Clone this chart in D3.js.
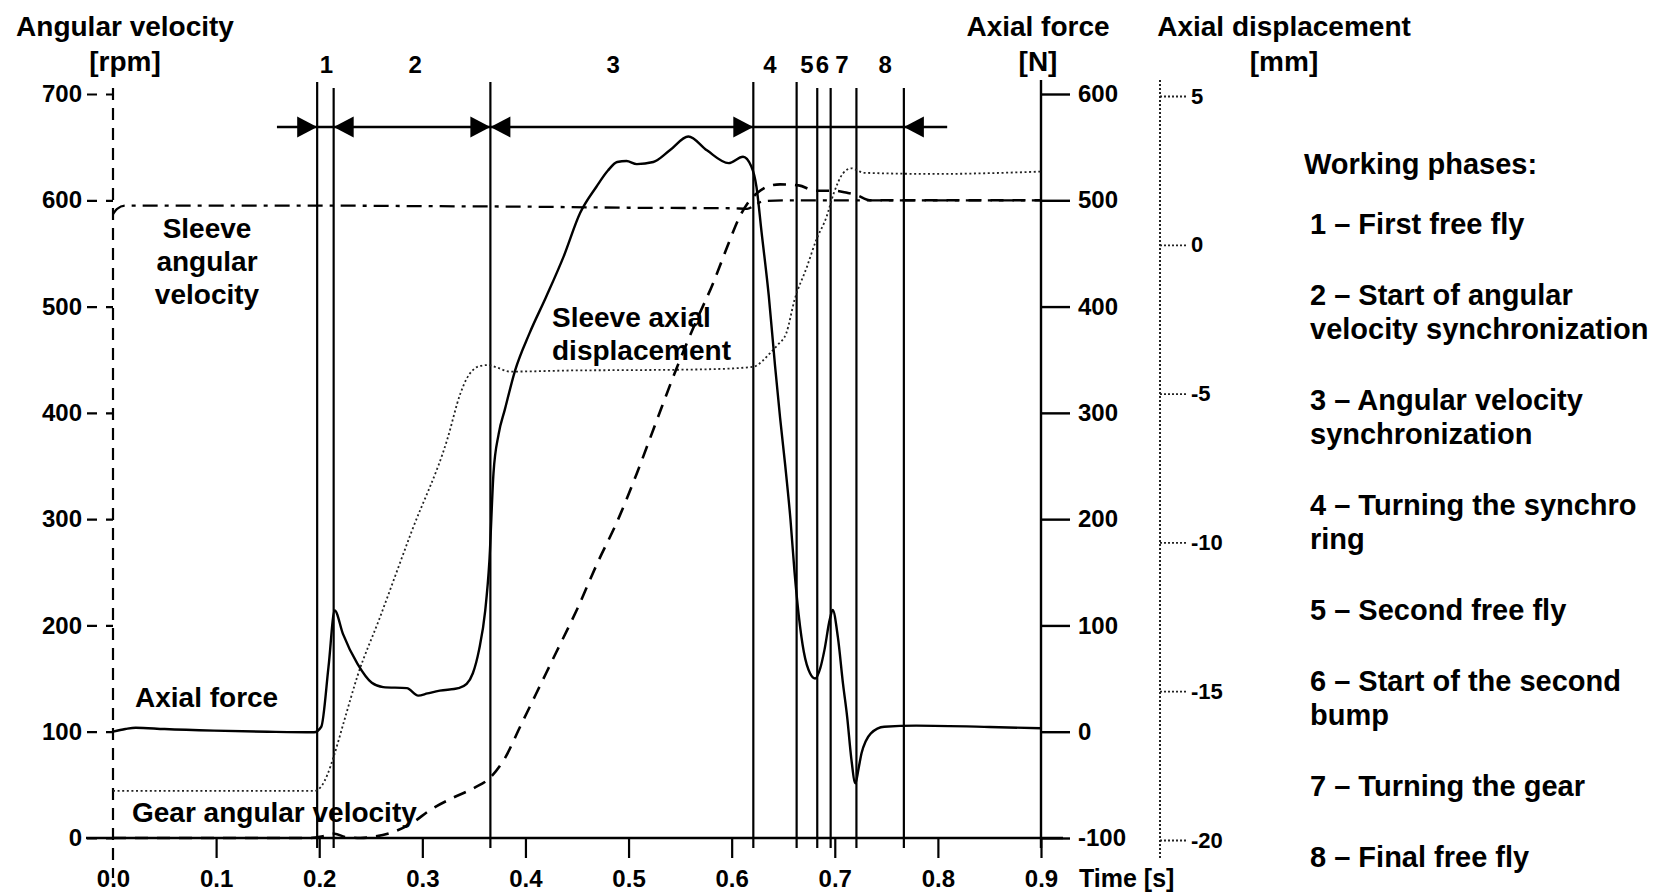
<!DOCTYPE html>
<html>
<head>
<meta charset="utf-8">
<script src="https://cdn.jsdelivr.net/npm/d3@7"></script>
<style>
  body { margin: 0; background: #fff; }
  text { font-family: "Liberation Sans", Arial, sans-serif; font-weight: bold; fill: #000; }
</style>
</head>
<body>
<script>
// Tamaño del lienzo
const w = 1672;
const h = 894;

// Ticks de los ejes
const timeTicks = [0, 0.1, 0.2, 0.3, 0.4, 0.5, 0.6, 0.7, 0.8, 0.9];
const rpmTicks = [0, 100, 200, 300, 400, 500, 600, 700];
const forceTicks = [-100, 0, 100, 200, 300, 400, 500, 600];
const dispTicks = [-20, -15, -10, -5, 0, 5];

// Series: [tiempo s, valor]
const axialForce = [
  [0, 0], [0.012, 2.5], [0.022, 3.8], [0.05, 2.5], [0.098, 1], [0.15, 0], [0.195, -0.5],
  [0.202, 4.7], [0.209, 61], [0.215, 114], [0.223, 92], [0.237, 64], [0.251, 46], [0.262, 42],
  [0.285, 41], [0.296, 34], [0.305, 36], [0.317, 38.6], [0.335, 41], [0.343, 45], [0.349, 55],
  [0.355, 77], [0.361, 114], [0.365, 160], [0.369, 243], [0.374, 280], [0.380, 303], [0.390, 340],
  [0.404, 375], [0.420, 409], [0.437, 447], [0.453, 488], [0.469, 513], [0.480, 528], [0.489, 536],
  [0.498, 537], [0.508, 534], [0.524, 536], [0.540, 547], [0.558, 560], [0.576, 547], [0.597, 535],
  [0.611, 541], [0.619, 532], [0.624, 513], [0.629, 470], [0.636, 410], [0.642, 345], [0.647, 295],
  [0.652, 250], [0.657, 200], [0.661, 150], [0.665, 110], [0.670, 75], [0.676, 55], [0.681, 50],
  [0.686, 60], [0.690, 77], [0.695, 105], [0.698, 114.5], [0.703, 89], [0.708, 45], [0.712, 14],
  [0.716, -25], [0.720, -48.5], [0.723, -35], [0.726, -20], [0.730, -9], [0.735, -1.5], [0.748, 4.7],
  [0.779, 5.7], [0.85, 4.5], [0.9, 3.2]
];

const gearVelocity = [
  [0, 0], [0.1, 0], [0.19, 0], [0.205, 2], [0.215, 4], [0.225, 1], [0.24, 0], [0.255, 1.5],
  [0.27, 5], [0.29, 14], [0.307, 26], [0.33, 38], [0.35, 47], [0.366, 57], [0.38, 75], [0.395, 105],
  [0.41, 135], [0.43, 175], [0.45, 215], [0.469, 257], [0.49, 300], [0.508, 343], [0.527, 392],
  [0.547, 443], [0.565, 485], [0.582, 522], [0.596, 557], [0.608, 585], [0.616, 598], [0.625, 607],
  [0.635, 613], [0.647, 615], [0.665, 614], [0.681, 609], [0.699, 609], [0.712, 607], [0.721, 605],
  [0.734, 600], [0.8, 600], [0.9, 600]
];

const sleeveVelocity = [
  [0, 587], [0.004, 592], [0.012, 595], [0.1, 595], [0.2, 595], [0.3, 594.5], [0.4, 594],
  [0.5, 593], [0.6, 592.5], [0.615, 592], [0.622, 595], [0.63, 599], [0.65, 600], [0.9, 600]
];

const sleeveDisplacement = [
  [0, -18.35], [0.1, -18.35], [0.195, -18.35], [0.202, -18.2], [0.208, -17.8], [0.214, -17.2],
  [0.225, -15.9], [0.237, -14.5], [0.258, -12.6], [0.29, -9.6], [0.324, -6.56], [0.337, -4.99],
  [0.343, -4.5], [0.349, -4.21], [0.356, -4.07], [0.364, -4.04], [0.372, -4.12], [0.385, -4.26],
  [0.45, -4.22], [0.508, -4.21], [0.58, -4.18], [0.621, -4.1], [0.63, -3.9], [0.637, -3.65],
  [0.645, -3.35], [0.653, -2.97], [0.661, -1.85], [0.673, -0.74], [0.682, 0.16], [0.692, 0.94],
  [0.699, 1.73], [0.708, 2.4], [0.716, 2.57], [0.722, 2.5], [0.728, 2.42], [0.8, 2.38],
  [0.841, 2.4], [0.9, 2.46]
];

// Fases de trabajo
const phaseLines = [0.198, 0.214, 0.366, 0.621, 0.663, 0.683, 0.696, 0.721, 0.767];
const phaseNumbers = ["1", "2", "3", "4", "5", "6", "7", "8"];
const phaseNumberT = [0.207, 0.293, 0.485, 0.637, 0.673, 0.688, 0.707, 0.749];
const arrowSpan = [0.159, 0.809];
const arrowHeads = [[0.198, "right"], [0.214, "left"], [0.366, "right"], [0.366, "left"], [0.621, "right"], [0.767, "left"]];

const legendTitle = "Working phases:";
const legendItems = [
  ["1 \u2013 First free fly"],
  ["2 \u2013 Start of angular", "velocity synchronization"],
  ["3 \u2013 Angular velocity", "synchronization"],
  ["4 \u2013 Turning the synchro", "ring"],
  ["5 \u2013 Second free fly"],
  ["6 \u2013 Start of the second", "bump"],
  ["7 \u2013 Turning the gear"],
  ["8 \u2013 Final free fly"]
];

// SVG
const svg = d3.select("body")
  .append("svg")
  .attr("width", w)
  .attr("height", h);

svg.append("rect").attr("width", w).attr("height", h).attr("fill", "#fff");

// Escalas
const x = d3.scaleLinear().domain([0, 0.9]).range([113, 1041]);
const yRpm = d3.scaleLinear().domain([0, 700]).range([838, 94]);
const yForce = d3.scaleLinear().domain([-100, 600]).range([838, 94]);
const yDisp = d3.scaleLinear().domain([-20, 5]).range([840, 96]);

// Etiquetas con guion normal (no el signo menos de d3)
const plain = d => String(d);

// Eje X
const xAxis = d3.axisBottom(x)
  .tickValues(timeTicks)
  .tickSize(20)
  .tickSizeOuter(0)
  .tickPadding(12)
  .tickFormat(d => d.toFixed(1));

const gx = svg.append("g")
  .attr("transform", "translate(0,838)")
  .call(xAxis);
gx.select(".domain").remove();
gx.selectAll(".tick line").attr("stroke", "#000").attr("stroke-width", 2.2)
  .filter(d => d === 0).remove();
gx.selectAll(".tick text").style("font-size", "24px");

svg.append("line")
  .attr("x1", 86).attr("x2", 1063)
  .attr("y1", 838).attr("y2", 838)
  .attr("stroke", "#000").attr("stroke-width", 2.4);

svg.append("text")
  .attr("x", 1079).attr("y", 887)
  .style("font-size", "25px")
  .text("Time [s]");

// Eje Y izquierdo (rpm), discontinuo
const yAxisL = d3.axisLeft(yRpm)
  .tickValues(rpmTicks)
  .tickSize(26)
  .tickSizeOuter(0)
  .tickPadding(5)
  .tickFormat(plain);

const gl = svg.append("g")
  .attr("transform", `translate(${x(0)},0)`)
  .call(yAxisL);
gl.select(".domain").remove();
gl.selectAll(".tick line").attr("stroke", "#000").attr("stroke-width", 2.2)
  .attr("stroke-dasharray", "7,9,10");
gl.selectAll(".tick text").style("font-size", "24px");

svg.append("line")
  .attr("x1", x(0)).attr("x2", x(0))
  .attr("y1", 88).attr("y2", 878)
  .attr("stroke", "#000").attr("stroke-width", 2.2)
  .attr("stroke-dasharray", "12,8");

// Eje de fuerza axial
const yAxisF = d3.axisRight(yForce)
  .tickValues(forceTicks)
  .tickSize(29)
  .tickSizeOuter(0)
  .tickPadding(8)
  .tickFormat(plain);

const gf = svg.append("g")
  .attr("transform", `translate(${x(0.9)},0)`)
  .call(yAxisF);
gf.select(".domain").remove();
gf.selectAll(".tick line").attr("stroke", "#000").attr("stroke-width", 2.4);
gf.selectAll(".tick text").style("font-size", "24px");

svg.append("line")
  .attr("x1", x(0.9)).attr("x2", x(0.9))
  .attr("y1", 80).attr("y2", 848)
  .attr("stroke", "#000").attr("stroke-width", 2.4);

// Eje de desplazamiento axial, punteado
const yAxisD = d3.axisRight(yDisp)
  .tickValues(dispTicks)
  .tickSize(28)
  .tickSizeOuter(0)
  .tickPadding(3)
  .tickFormat(plain);

const gd = svg.append("g")
  .attr("transform", "translate(1160,0)")
  .call(yAxisD);
gd.select(".domain").remove();
gd.selectAll(".tick line").attr("stroke", "#222").attr("stroke-width", 1.8)
  .attr("stroke-dasharray", "2,2");
gd.selectAll(".tick text").style("font-size", "22px");

svg.append("line")
  .attr("x1", 1160).attr("x2", 1160)
  .attr("y1", 80).attr("y2", 860)
  .attr("stroke", "#222").attr("stroke-width", 2)
  .attr("stroke-dasharray", "2,2");

// Títulos de ejes
const titles = [
  [125, "Angular velocity", "[rpm]"],
  [1038, "Axial force", "[N]"],
  [1284, "Axial displacement", "[mm]"]
];
titles.forEach(([cx, t1, t2]) => {
  svg.append("text").attr("x", cx).attr("y", 36)
    .attr("text-anchor", "middle").style("font-size", "28px").text(t1);
  svg.append("text").attr("x", cx).attr("y", 71)
    .attr("text-anchor", "middle").style("font-size", "28px").text(t2);
});

// Líneas verticales de fases
const tallLines = new Set([0.198, 0.366, 0.621, 0.663]);
svg.selectAll(".phase")
  .data(phaseLines)
  .enter()
  .append("line")
  .attr("class", "phase")
  .attr("x1", d => x(d)).attr("x2", d => x(d))
  .attr("y1", d => tallLines.has(d) ? 82 : 88)
  .attr("y2", 848)
  .attr("stroke", "#000")
  .attr("stroke-width", 2.2);

// Números de fase
svg.selectAll(".phase-num")
  .data(phaseNumbers)
  .enter()
  .append("text")
  .attr("class", "phase-num")
  .attr("x", (d, i) => x(phaseNumberT[i]))
  .attr("y", 73)
  .attr("text-anchor", "middle")
  .style("font-size", "24px")
  .text(d => d);

// Flechas
svg.append("line")
  .attr("x1", x(arrowSpan[0])).attr("x2", x(arrowSpan[1]))
  .attr("y1", 127).attr("y2", 127)
  .attr("stroke", "#000").attr("stroke-width", 2.4);

svg.selectAll(".arrow")
  .data(arrowHeads)
  .enter()
  .append("path")
  .attr("class", "arrow")
  .attr("d", d => {
    const tip = x(d[0]);
    const base = d[1] === "right" ? tip - 20 : tip + 20;
    return `M${tip},127 L${base},116.5 L${base},137.5 Z`;
  })
  .attr("fill", "#000");

// Curvas
const lineOf = yScale => d3.line()
  .x(d => x(d[0]))
  .y(d => yScale(d[1]))
  .curve(d3.curveMonotoneX);

svg.append("path")
  .datum(sleeveDisplacement)
  .attr("d", lineOf(yDisp))
  .attr("fill", "none")
  .attr("stroke", "#222")
  .attr("stroke-width", 1.8)
  .attr("stroke-dasharray", "2,2.6");

svg.append("path")
  .datum(sleeveVelocity)
  .attr("d", lineOf(yRpm))
  .attr("fill", "none")
  .attr("stroke", "#000")
  .attr("stroke-width", 2.3)
  .attr("stroke-dasharray", "15,7,4,7");

svg.append("path")
  .datum(gearVelocity)
  .attr("d", lineOf(yRpm))
  .attr("fill", "none")
  .attr("stroke", "#000")
  .attr("stroke-width", 2.6)
  .attr("stroke-dasharray", "13,9");

svg.append("path")
  .datum(axialForce)
  .attr("d", lineOf(yForce))
  .attr("fill", "none")
  .attr("stroke", "#000")
  .attr("stroke-width", 2.4);

// Rótulos dentro del gráfico
const labels = [
  [207, 238, "middle", ["Sleeve", "angular", "velocity"]],
  [552, 327, "start", ["Sleeve axial", "displacement"]],
  [135, 707, "start", ["Axial force"]],
  [132, 822, "start", ["Gear angular velocity"]]
];
labels.forEach(([lx, ly, anchor, lines]) => {
  lines.forEach((t, i) => {
    svg.append("text")
      .attr("x", lx).attr("y", ly + i * 33)
      .attr("text-anchor", anchor)
      .style("font-size", "28px")
      .text(t);
  });
});

// Leyenda
const legend = svg.append("g").attr("id", "legend");
legend.append("text")
  .attr("x", 1304).attr("y", 174)
  .style("font-size", "29px")
  .text(legendTitle);

let ly = 234;
legendItems.forEach(lines => {
  lines.forEach((t, i) => {
    legend.append("text")
      .attr("x", 1310).attr("y", ly + i * 34)
      .style("font-size", "29px")
      .text(t);
  });
  ly += (lines.length - 1) * 34 + 71;
});
</script>
</body>
</html>
